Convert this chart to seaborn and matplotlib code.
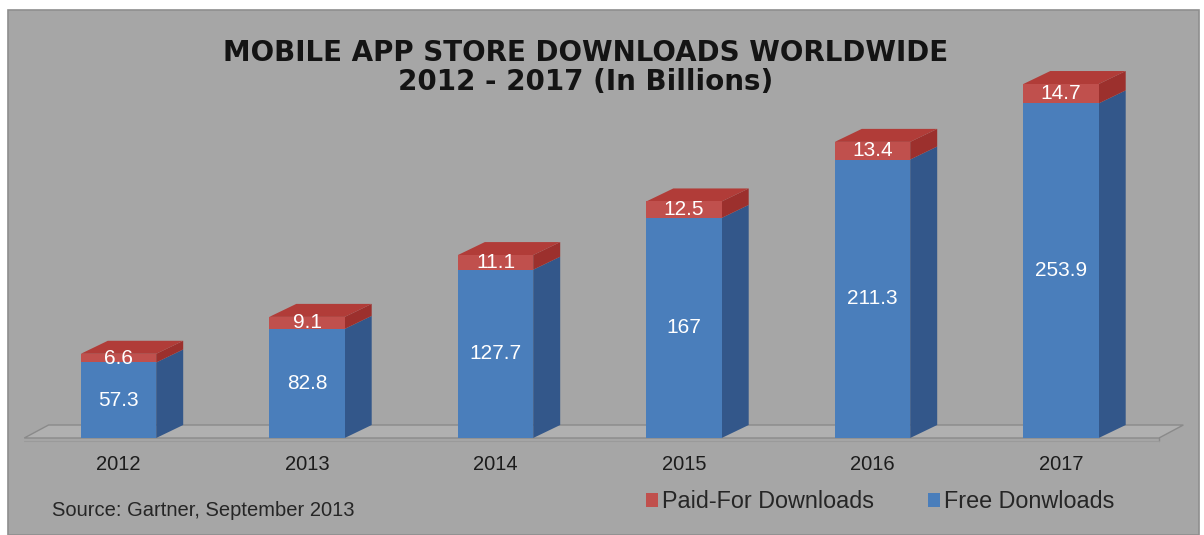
import matplotlib
matplotlib.use("Agg")
import matplotlib.pyplot as plt
from matplotlib.patches import Polygon, Rectangle
import seaborn as sns
import pandas as pd

# Downloads worldwide, in billions
years = ["2012", "2013", "2014", "2015", "2016", "2017"]
free_downloads = [57.3, 82.8, 127.7, 167, 211.3, 253.9]
paid_downloads = [6.6, 9.1, 11.1, 12.5, 13.4, 14.7]

title_line1 = "MOBILE APP STORE DOWNLOADS WORLDWIDE"
title_line2 = "2012 - 2017 (In Billions)"
source_text = "Source: Gartner, September 2013"
paid_label = "Paid-For Downloads"
free_label = "Free Donwloads"

df = pd.DataFrame({"year": years, "free": free_downloads, "paid": paid_downloads})
df["total"] = df["free"] + df["paid"]

BLUE = "#4a7ebb"
BLUE_SIDE = "#33578a"
RED = "#c0504d"
RED_SIDE = "#9c302d"
RED_TOP = "#b13c38"
PANEL = "#a6a6a6"

sns.set_theme(style="white")
plt.rcParams["font.family"] = ["Liberation Sans", "DejaVu Sans"]

W, H = 1204, 535
fig = plt.figure(figsize=(W / 100, H / 100), dpi=100, facecolor="white")

# grey chart panel, kept behind the axes
panel = Rectangle((8 / W, 0), 1191 / W, (H - 10) / H, transform=fig.transFigure,
                  facecolor=PANEL, edgecolor="#8e8e8e", linewidth=1.2, zorder=-5)
fig.add_artist(panel)

ax = fig.add_axes([24.25 / W, 97 / H, 1131 / W, 369 / H])
ax.set_facecolor("none")
ax.set_zorder(1)

YMAX = 280
BAR_W = 0.4
# extrusion depth of the 3-D boxes, in data units
DX = 27 / 188.5
DY = 13 / (369 / YMAX)

# floor plate
floor = Polygon([(-0.5, 0), (5.52, 0), (5.52 + DX * 0.9, DY), (-0.5 + DX * 0.9, DY)],
                closed=True, facecolor="#b0b0b0", edgecolor="#8a8a8a", linewidth=1.0,
                zorder=1, clip_on=False)
ax.add_patch(floor)
ax.plot([5.52, 5.52], [0, -2.2], color="#8a8a8a", lw=1.0, zorder=1, clip_on=False)
ax.plot([-0.5, 5.52], [-2.2, -2.2], color="#9a9a9a", lw=0.8, zorder=1, clip_on=False)

# stacked bars: totals in red, free part in blue drawn over it
sns.barplot(data=df, x="year", y="total", color=RED, saturation=1, width=BAR_W,
            label=paid_label, linewidth=0, zorder=3, ax=ax)
sns.barplot(data=df, x="year", y="free", color=BLUE, saturation=1, width=BAR_W,
            label=free_label, linewidth=0, zorder=3, ax=ax)

handles, labels = ax.get_legend_handles_labels()
if ax.get_legend() is not None:
    ax.get_legend().remove()

n = len(years)
bars = [p for p in ax.patches if p is not floor]
red_bars = bars[:n]
blue_bars = bars[n:2 * n]

for rb, bb, free, paid in zip(red_bars, blue_bars, df["free"], df["paid"]):
    x0 = bb.get_x()
    x1 = x0 + bb.get_width()
    top = free + paid
    # right-hand faces
    ax.add_patch(Polygon([(x1, 0), (x1 + DX, DY), (x1 + DX, free + DY), (x1, free)],
                         closed=True, facecolor=BLUE_SIDE, edgecolor="none", zorder=2))
    ax.add_patch(Polygon([(x1, free), (x1 + DX, free + DY), (x1 + DX, top + DY), (x1, top)],
                         closed=True, facecolor=RED_SIDE, edgecolor="none", zorder=2))
    # top face
    ax.add_patch(Polygon([(x0, top), (x1, top), (x1 + DX, top + DY), (x0 + DX, top + DY)],
                         closed=True, facecolor=RED_TOP, edgecolor="none", zorder=2))
    cx = x0 + bb.get_width() / 2
    ax.text(cx, free / 2, f"{free:g}", ha="center", va="center", color="white",
            fontsize=15, zorder=4)
    ax.text(cx, free + paid / 2, f"{paid:g}", ha="center", va="center", color="white",
            fontsize=15, zorder=4)

ax.set_xlim(-0.5, 5.5)
ax.set_ylim(0, YMAX)
ax.set_xlabel("")
ax.set_ylabel("")
ax.set_yticks([])
ax.tick_params(axis="x", length=0, pad=12, labelsize=14.5, labelcolor="#1c1c1c")
for s in ax.spines.values():
    s.set_visible(False)

title_kw = dict(ha="center", va="center", fontsize=20, fontweight="bold",
                family=["DejaVu Sans"], color="#141414")
fig.text(586 / W, 1 - 53 / H, title_line1, **title_kw)
fig.text(586 / W, 1 - 82 / H, title_line2, **title_kw)

fig.text(52 / W, 1 - 510 / H, source_text, ha="left", va="center", fontsize=14.5,
         color="#262626")

fig.legend(handles, labels, loc="center left", bbox_to_anchor=(646 / W, 1 - 502 / H),
           ncol=2, frameon=False, fontsize=16.8, handlelength=0.52, handleheight=0.52,
           handletextpad=0.18, columnspacing=2.3, borderaxespad=0, borderpad=0,
           labelcolor="#262626")

fig.savefig("out.png", dpi=100, facecolor="white")
